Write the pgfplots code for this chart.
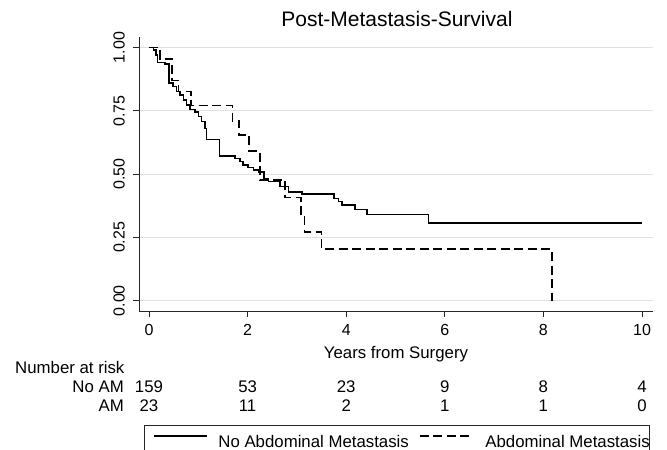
\documentclass[border=0pt]{standalone}
\usepackage{fontspec}
\setmainfont{Liberation Sans}
\usepackage{pgfplots}
\pgfplotsset{compat=1.18}
\newcommand{\fs}{\fontsize{16.8}{20}\selectfont}
\newcommand{\ft}{\fontsize{16}{19}\selectfont}
\begin{document}
\begin{tikzpicture}
\begin{axis}[
  scale only axis, width=514pt, height=274pt,
  xmin=-0.2028, xmax=10.2231, ymin=-0.04068, ymax=1.04147,
  axis x line=bottom, axis y line=left,
  axis line style={-, line width=0.8pt, black!85},
  tick align=outside, major tick length=6pt,
  tick style={line width=0.8pt, black!85},
  xtick={0,2,4,6,8,10}, ytick={0,0.25,0.5,0.75,1},
  yticklabels={0.00,0.25,0.50,0.75,1.00},
  /pgf/number format/assume math mode=true,
  ticklabel style={font=\ft, inner sep=0pt},
  xticklabel style={anchor=north},
  yticklabel style={rotate=90, anchor=south},
  xticklabel shift=7pt,
  yticklabel shift=8pt,
  ymajorgrids, grid style={line width=0.9pt, black!12},
  clip=false,
  title={Post-Metastasis-Survival},
  title style={at={(axis cs:5.03,1.0612)}, anchor=base, font=\fontsize{21}{25}\selectfont, inner sep=0pt},
  xlabel={Years from Surgery},
  xlabel style={at={(axis cs:5.01,-0.2263)}, anchor=base, font=\fs, inner sep=0pt},
  legend columns=2,
  legend image code/.code={\path (0pt,0pt); \draw[#1, line width=1.5pt] (8.5pt,6.5pt) -- (61.5pt,6.5pt);},
  legend style={at={(axis cs:-0.101,-0.4909)}, anchor=north west,
    draw=black!85, line width=0.8pt, inner xsep=0pt, inner ysep=10pt,
    font=\fs, nodes={inner sep=0pt},
    /tikz/column 1/.style={column sep=11pt},
    /tikz/column 2/.style={column sep=1.5pt},
    /tikz/column 3/.style={column sep=12pt}},
]
\addplot[const plot, black, line width=1.5pt] coordinates {
(0,1) (0.09,0.99) (0.14,0.97) (0.17,0.94) (0.32,0.934) (0.41,0.859)
(0.49,0.845) (0.56,0.826) (0.63,0.812) (0.70,0.793) (0.76,0.773)
(0.83,0.755) (0.93,0.746) (1.00,0.727) (1.07,0.707) (1.14,0.681)
(1.17,0.637) (1.43,0.571) (1.74,0.562) (1.85,0.549) (1.91,0.536)
(2.01,0.527) (2.12,0.516) (2.22,0.508) (2.33,0.483) (2.42,0.470)
(2.66,0.452) (2.83,0.430) (3.10,0.421) (3.75,0.404) (3.84,0.391)
(3.91,0.378) (4.18,0.360) (4.42,0.340) (5.67,0.307) (10.0,0.307)};
\addlegendentry{No Abdominal Metastasis}
\addplot[const plot, black, line width=1.5pt, dash pattern=on 9pt off 4.5pt] coordinates {
(0,1) (0.22,0.955) (0.47,0.87) (0.60,0.826) (0.85,0.77) (1.69,0.71)
(1.83,0.655) (2.03,0.592) (2.25,0.477) (2.76,0.407) (3.08,0.34)
(3.15,0.272) (3.50,0.204) (8.17,0)};
\addlegendentry{Abdominal Metastasis}
\node[anchor=base west, inner sep=0pt, font=\fs] at (axis cs:-2.718,-0.2875) {Number at risk};
\node[anchor=base east, inner sep=0pt, font=\fs] at (axis cs:-0.507,-0.3617) {No AM};
\node[anchor=base east, inner sep=0pt, font=\fs] at (axis cs:-0.507,-0.4384) {AM};
\node[anchor=base, inner sep=0pt, font=\fs] at (axis cs:0,-0.3617) {159};
\node[anchor=base, inner sep=0pt, font=\fs] at (axis cs:2,-0.3617) {53};
\node[anchor=base, inner sep=0pt, font=\fs] at (axis cs:4,-0.3617) {23};
\node[anchor=base, inner sep=0pt, font=\fs] at (axis cs:6,-0.3617) {9};
\node[anchor=base, inner sep=0pt, font=\fs] at (axis cs:8,-0.3617) {8};
\node[anchor=base, inner sep=0pt, font=\fs] at (axis cs:10,-0.3617) {4};
\node[anchor=base, inner sep=0pt, font=\fs] at (axis cs:0,-0.4384) {23};
\node[anchor=base, inner sep=0pt, font=\fs] at (axis cs:2,-0.4384) {11};
\node[anchor=base, inner sep=0pt, font=\fs] at (axis cs:4,-0.4384) {2};
\node[anchor=base, inner sep=0pt, font=\fs] at (axis cs:6,-0.4384) {1};
\node[anchor=base, inner sep=0pt, font=\fs] at (axis cs:8,-0.4384) {1};
\node[anchor=base, inner sep=0pt, font=\fs] at (axis cs:10,-0.4384) {0};
\coordinate (tl) at (axis cs:-3.0223,1.1876);
\coordinate (br) at (axis cs:10.5071,-0.58965);
\end{axis}
\pgfresetboundingbox
\useasboundingbox (tl) rectangle (br);
\end{tikzpicture}
\end{document}
